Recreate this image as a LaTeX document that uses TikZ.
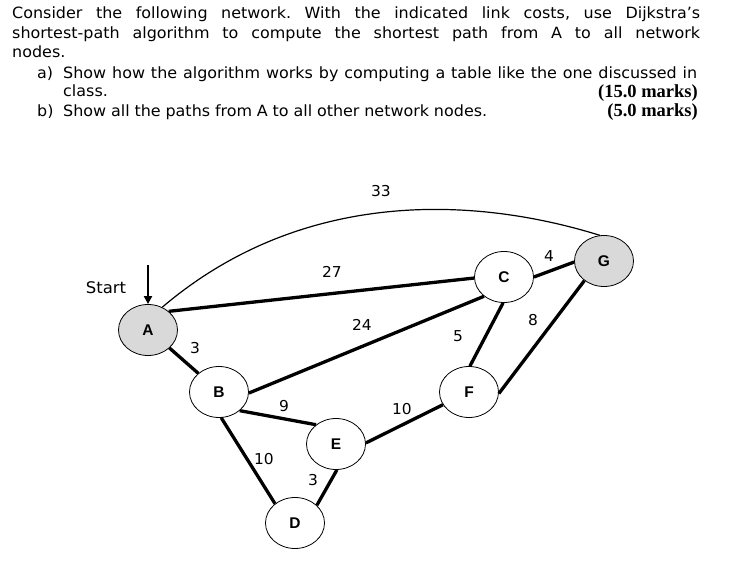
\documentclass[tikz,border=0pt]{standalone}
\usepackage{fontspec}
\setmainfont[FakeStretch=1.03]{DejaVu Sans}
\newfontfamily\nodefont{Liberation Sans}
\newfontfamily\marksfont{Liberation Serif}
\usetikzlibrary{shapes.geometric,arrows.meta}
\frenchspacing
\begin{document}
\begin{tikzpicture}[x=1pt,y=-1pt,
  txt/.style={anchor=base west,inner sep=0pt,font=\fontsize{15.5}{18}\selectfont},
  marks/.style={anchor=base east,inner sep=0pt,font=\marksfont\bfseries\fontsize{18.5}{20}\selectfont},
  vtx/.style={ellipse,draw,line width=0.8pt,minimum width=59pt,minimum height=51pt,inner sep=0pt,font=\nodefont\bfseries\fontsize{15.5}{16}\selectfont},
  src/.style={vtx,fill=black!15},
  link/.style={line width=3.3pt},
  cost/.style={inner sep=0pt,font=\fontsize{15}{16}\selectfont}]
\useasboundingbox (0,0) rectangle (745,564);
% question text
\node[txt] (l1) at (12,18.5) {\makebox[688pt][s]{Consider the following network. With the indicated link costs, use Dijkstra’s}};
\node[txt] (l2) at (12,38.5) {\makebox[688pt][s]{shortest-path algorithm to compute the shortest path from A to all network}};
\node[txt] (l3) at (12,58) {nodes.};
\node[txt] (ia) at (37,78.5) {a)};
\node[txt] (la) at (63,78.5) {\makebox[634pt][s]{Show how the algorithm works by computing a table like the one discussed in}};
\node[txt] (lc) at (63,97) {class.};
\node[marks] (ma) at (698,98) {(15.0 marks)};
\node[txt] (ib) at (37,116.5) {b)};
\node[txt] (lb) at (63,116.5) {\makebox[424pt][s]{Show all the paths from A to all other network nodes.}};
\node[marks] (mb) at (698,117) {(5.0 marks)};
% nodes
\node[src] (A) at (148,330) {A};
\node[vtx] (B) at (219,392) {B};
\node[vtx] (C) at (504,277) {C};
\node[vtx] (D) at (295,523) {D};
\node[vtx] (E) at (336,444) {E};
\node[vtx] (F) at (469,392) {F};
\node[src] (G) at (604,261) {G};
% start
\node[inner sep=0pt,font=\fontsize{16}{16}\selectfont] (start) at (106,288) {Start};
\coordinate (st) at (148,265);
\draw[line width=2.5pt,-{Triangle[length=8pt,width=8pt]}] (st) -- (A.north);
% links
\draw[line width=1.2pt] (A.58) .. controls (300,190) and (470,195) .. (G.99);
\draw[link] (A.42) -- (C.182);
\draw[link] (A.-40) -- (B.138);
\draw[link] (B.-2) -- (C.224);
\draw[link] (B.-42) -- (E.136);
\draw[link] (B.-85) -- (D.136);
\draw[link] (D.39) -- (E.-88);
\draw[link] (E.2) -- (F.206);
\draw[link] (F.88) -- (C.-92);
\draw[link] (F.-3) -- (G.225);
\draw[link] (C.0) -- (G.182);
% costs
\node[cost] (cAG) at (381,191) {33};
\node[cost] (cAC) at (332,272) {27};
\node[cost] (cBC) at (362,325) {24};
\node[cost] (cAB) at (195,348) {3};
\node[cost] (cBE) at (284,406) {9};
\node[cost] (cBD) at (264,459) {10};
\node[cost] (cDE) at (313,480) {3};
\node[cost] (cEF) at (402,409) {10};
\node[cost] (cFC) at (458,336) {5};
\node[cost] (cFG) at (533,320) {8};
\node[cost] (cCG) at (549,256) {4};
\end{tikzpicture}
\end{document}
